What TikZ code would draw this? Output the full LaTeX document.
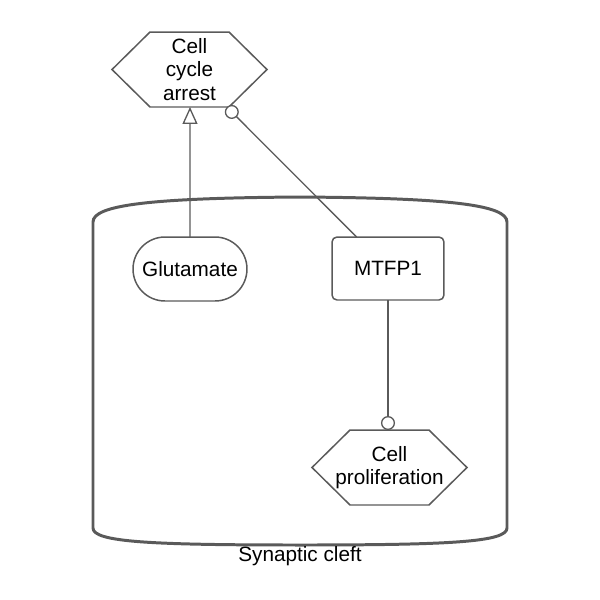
\documentclass[tikz,border=0pt]{standalone}
\usepackage{fontspec}
\setmainfont{Liberation Sans}
\usetikzlibrary{arrows.meta,shapes.misc}
\definecolor{edgegray}{HTML}{5A5A5A}
\tikzset{
  lbl/.style={font=\fontsize{11.8}{13.2}\selectfont, align=center, inner sep=0pt, outer sep=0pt},
  hexbox/.style={lbl, draw=none, minimum width=3.1cm, minimum height=1.5cm},
  hexline/.style={draw=edgegray, line width=0.85pt, line join=miter},
  molbox/.style={lbl, draw=edgegray, line width=0.85pt, rounded rectangle, minimum width=2.28cm, minimum height=1.28cm},
  genebox/.style={lbl, draw=edgegray, line width=0.85pt, rounded corners=0.1cm, minimum width=2.24cm, minimum height=1.26cm},
  link/.style={draw=edgegray, line width=0.75pt},
}
\begin{document}
\begin{tikzpicture}[x=0.02cm,y=-0.02cm]
\useasboundingbox (0,0) rectangle (600,600);
% compartment
\draw[edgegray, line width=1.7pt] (93,528) -- (93,222)
  .. controls (93,205) and (150,198) .. (300,197)
  .. controls (450,198) and (507,205) .. (507,222) -- (507,528)
  .. controls (507,542) and (450,545) .. (300,545)
  .. controls (150,545) and (93,542) .. (93,528) -- cycle;
\node[lbl] (cleft) at (300,556) {Synaptic cleft};
% nodes
\node[hexbox] (arrest) at (189.5,69.5) {Cell\\cycle\\arrest};
\node[molbox] (glu) at (190,269) {Glutamate};
\node[genebox] (mtfp) at (388,268.5) {MTFP1};
\node[hexbox] (prolif) at (389.5,467.5) {Cell\\proliferation};
\draw[hexline] (arrest.west) -- ([xshift=0.76cm]arrest.north west) -- ([xshift=-0.76cm]arrest.north east)
  -- (arrest.east) -- ([xshift=-0.76cm]arrest.south east) -- ([xshift=0.76cm]arrest.south west) -- cycle;
\draw[hexline] (prolif.west) -- ([xshift=0.76cm]prolif.north west) -- ([xshift=-0.76cm]prolif.north east)
  -- (prolif.east) -- ([xshift=-0.76cm]prolif.south east) -- ([xshift=0.76cm]prolif.south west) -- cycle;
% interactions
\draw[link, -{Triangle[fill=white, length=0.34cm, width=0.3cm]}] (glu) -- (glu |- arrest.south);
\draw[link, -{Circle[fill=white, length=0.28cm]}] (mtfp) -- (arrest);
\draw[link, -{Circle[fill=white, length=0.28cm]}] (mtfp) -- (mtfp |- prolif.north);
\end{tikzpicture}
\end{document}
